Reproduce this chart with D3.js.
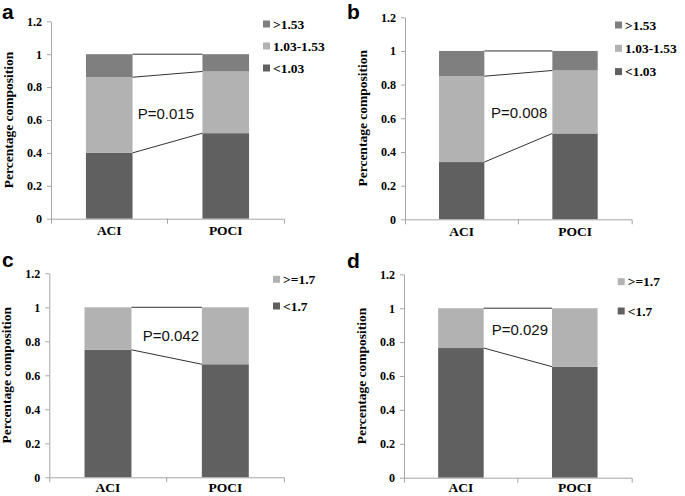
<!doctype html>
<html>
<head>
<meta charset="utf-8">
<script src="https://d3js.org/d3.v7.min.js"></script>
<style>
body { margin: 0; background: #fff; }
</style>
</head>
<body>
<script>
// data
var categories = ["ACI", "POCI"];
var yTicks = [0, 0.2, 0.4, 0.6, 0.8, 1, 1.2];
var keysAB = ["<1.03", "1.03-1.53", ">1.53"];
var keysCD = ["<1.7", ">=1.7"];
var valuesA = [[0.40, 0.46, 0.14], [0.52, 0.375, 0.105]];   // ACI, POCI
var valuesB = [[0.34, 0.51, 0.15], [0.51, 0.374, 0.116]];
var valuesC = [[0.75, 0.25], [0.665, 0.335]];
var valuesD = [[0.765, 0.235], [0.655, 0.345]];
var pLabels = ["P=0.015", "P=0.008", "P=0.042", "P=0.029"];
var panelLetters = ["a", "b", "c", "d"];
var yTitle = "Percentage composition";

var color = d3.scaleOrdinal()
    .domain(["<1.03", "1.03-1.53", ">1.53", "<1.7", ">=1.7"])
    .range(["#606060", "#b2b2b2", "#7f7f7f", "#606060", "#b2b2b2"]);

// layout of each panel (pixels)
var panels = [
  {keys: keysAB, values: valuesA, x0: 51,  x1: 284,   yb: 218.7, yt: 21.3,  lx: 263,   ly: 24,    lgap: 22,   px: 137.7, py: 119,   ltx: 2,   lty: 19,  xpad: 7},
  {keys: keysAB, values: valuesB, x0: 405, x1: 631.7, yb: 219.3, yt: 17.3,  lx: 615,   ly: 25,    lgap: 23.3, px: 491,   py: 118.3, ltx: 347, lty: 19,  xpad: 7},
  {keys: keysCD, values: valuesC, x0: 49.3, x1: 284,  yb: 477.3, yt: 273.3, lx: 273,   ly: 279.3, lgap: 26.7, px: 142.7, py: 340.7, ltx: 2,   lty: 267, xpad: 5},
  {keys: keysCD, values: valuesD, x0: 404, x1: 631.7, yb: 477.7, yt: 274.3, lx: 617.7, ly: 281.7, lgap: 29.3, px: 491.7, py: 335,   ltx: 347, lty: 268, xpad: 5}
];

var serif = "'Liberation Serif', 'Times New Roman', serif";
var sans = "'Liberation Sans', Arial, sans-serif";
var axisColor = "#a6a6a6";

var svg = d3.select("body").append("svg")
    .attr("width", 685)
    .attr("height", 496);

panels.forEach(function(p, pi) {
    var x = d3.scaleBand().domain(categories).range([p.x0, p.x1])
        .paddingInner(0.6).paddingOuter(0.3);
    var y = d3.scaleLinear().domain([0, 1.2]).range([p.yb, p.yt]);

    var rows = categories.map(function(c, i) {
        var r = {cat: c};
        p.keys.forEach(function(k, j) { r[k] = p.values[i][j]; });
        return r;
    });
    var series = d3.stack().keys(p.keys)(rows);

    var g = svg.append("g");

    // bars
    g.append("g").selectAll("g")
        .data(series)
        .enter().append("g")
        .attr("fill", function(d) { return color(d.key); })
      .selectAll("rect")
        .data(function(d) { return d; })
        .enter().append("rect")
        .attr("x", function(d) { return x(d.data.cat); })
        .attr("width", x.bandwidth())
        .attr("y", function(d) { return y(d[1]); })
        .attr("height", function(d) { return y(d[0]) - y(d[1]); });

    // series lines between the bars
    g.append("g").selectAll("line")
        .data(series)
        .enter().append("line")
        .attr("x1", x(categories[0]) + x.bandwidth())
        .attr("x2", x(categories[1]))
        .attr("y1", function(d) { return y(d[0][1]); })
        .attr("y2", function(d) { return y(d[1][1]); })
        .attr("stroke", "#333")
        .attr("stroke-width", 1);

    // y axis
    var ya = g.append("g")
        .attr("transform", "translate(" + p.x0 + ",0)")
        .call(d3.axisLeft(y).tickValues(yTicks).tickSize(4).tickSizeOuter(0)
            .tickPadding(5).tickFormat(d3.format("~g")));
    ya.select(".domain").attr("stroke", axisColor);
    ya.selectAll(".tick line").attr("stroke", axisColor);
    ya.selectAll("text")
        .attr("fill", "#000")
        .style("font-family", serif)
        .style("font-weight", "bold")
        .style("font-size", "12px");

    // x axis
    var xa = g.append("g")
        .attr("transform", "translate(0," + p.yb + ")")
        .call(d3.axisBottom(x).tickSize(0).tickSizeOuter(5).tickPadding(p.xpad));
    xa.select(".domain").attr("stroke", axisColor);
    var mid = (x(categories[0]) + x.bandwidth() + x(categories[1])) / 2;
    xa.append("line")
        .attr("x1", mid).attr("x2", mid)
        .attr("y1", 0).attr("y2", 5)
        .attr("stroke", axisColor);
    xa.selectAll("text")
        .attr("fill", "#000")
        .style("font-family", serif)
        .style("font-weight", "bold")
        .style("font-size", "13.5px");

    // y title
    g.append("text")
        .attr("transform", "translate(" + (p.x0 - 38) + "," + ((p.yb + p.yt) / 2) + ")rotate(-90)")
        .attr("text-anchor", "middle")
        .style("font-family", serif)
        .style("font-weight", "bold")
        .style("font-size", "13.5px")
        .text(yTitle);

    // legend (top series first)
    var leg = g.append("g").selectAll("g")
        .data(p.keys.slice().reverse())
        .enter().append("g")
        .attr("transform", function(d, i) { return "translate(" + p.lx + "," + (p.ly + i * p.lgap) + ")"; });
    leg.append("rect")
        .attr("x", 0).attr("y", -3.5)
        .attr("width", 7).attr("height", 7)
        .attr("fill", function(d) { return color(d); });
    leg.append("text")
        .attr("x", 10).attr("y", 4.5)
        .style("font-family", serif)
        .style("font-weight", "bold")
        .style("font-size", "13.5px")
        .text(function(d) { return d; });

    // p value
    g.append("text")
        .attr("x", p.px).attr("y", p.py)
        .style("font-family", sans)
        .style("font-size", "15px")
        .attr("fill", "#111")
        .text(pLabels[pi]);

    // panel letter
    g.append("text")
        .attr("x", p.ltx).attr("y", p.lty)
        .style("font-family", sans)
        .style("font-weight", "bold")
        .style("font-size", "21px")
        .text(panelLetters[pi]);
});
</script>
</body>
</html>
